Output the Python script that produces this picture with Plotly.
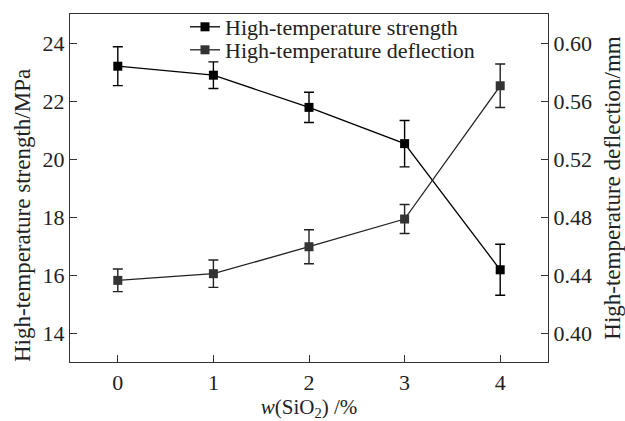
import plotly.graph_objects as go

x_vals = [0, 1, 2, 3, 4]
strength = [23.20, 22.89, 21.78, 20.53, 16.18]
strength_err = [0.67, 0.46, 0.52, 0.80, 0.88]
deflection = [0.4363, 0.4409, 0.4595, 0.4786, 0.5705]
deflection_err = [0.0078, 0.0094, 0.0117, 0.0100, 0.0150]

x_ticks = [0, 1, 2, 3, 4]
left_ticks = [14, 16, 18, 20, 22, 24]
right_ticks = [0.40, 0.44, 0.48, 0.52, 0.56, 0.60]

FONT = "Liberation Serif"
TXT = "#222222"

fig = go.Figure()
fig.add_trace(go.Scatter(
    x=x_vals, y=strength, name="High-temperature strength",
    mode="lines+markers", legend="legend",
    line=dict(color="#000000", width=1.3),
    marker=dict(symbol="square", size=9, color="#000000"),
    error_y=dict(type="data", array=strength_err, color="#000000", thickness=1.4, width=5),
))
fig.add_trace(go.Scatter(
    x=x_vals, y=deflection, name="High-temperature deflection",
    mode="lines+markers", yaxis="y2", legend="legend2",
    line=dict(color="#222222", width=1.3),
    marker=dict(symbol="square", size=9, color="#333333"),
    error_y=dict(type="data", array=deflection_err, color="#222222", thickness=1.4, width=5),
))

axis_common = dict(
    showline=True, linecolor="#333333", linewidth=1.3,
    ticks="inside", ticklen=7, tickwidth=1.3, tickcolor="#333333",
    showgrid=False, zeroline=False, automargin=False,
    tickfont=dict(family=FONT, size=22, color=TXT),
)

PL, PR, PT, PB = 70, 548, 14, 362
def px_x(p):
    return (p - PL) / (PR - PL)
def px_y(p):
    return (PB - p) / (PB - PT)

leg_common = dict(xanchor="left", yanchor="middle", bgcolor="rgba(0,0,0,0)",
                  font=dict(family=FONT, size=22, color=TXT), itemwidth=30)

fig.update_layout(
    width=625, height=421,
    margin=dict(l=PL, r=625 - PR, t=PT, b=421 - PB, autoexpand=False),
    paper_bgcolor="white", plot_bgcolor="white",
    font=dict(family=FONT, size=22, color=TXT),
    showlegend=True,
    legend=dict(x=px_x(185), y=px_y(27), **leg_common),
    legend2=dict(x=px_x(185), y=px_y(50), **leg_common),
    xaxis=dict(range=[-0.5, 4.5], tickvals=x_ticks, mirror=True,
               title=dict(text="<i>w</i>(SiO<sub>2</sub>) /%", standoff=4,
                          font=dict(family=FONT, size=21, color=TXT)),
               **axis_common),
    yaxis=dict(range=[13, 25], tickvals=left_ticks, **axis_common),
    yaxis2=dict(range=[0.38, 0.62], tickvals=right_ticks, tickformat=".2f",
                overlaying="y", side="right",
                title=dict(text="High-temperature deflection/mm", standoff=14,
                           font=dict(family=FONT, size=23, color=TXT)),
                **axis_common),
    annotations=[dict(
        text="High-temperature strength/MPa", textangle=-90,
        xref="paper", yref="paper", x=px_x(22), y=px_y(216),
        xanchor="center", yanchor="middle", showarrow=False,
        font=dict(family=FONT, size=23, color=TXT),
    )],
)

fig.write_html("out.html")
